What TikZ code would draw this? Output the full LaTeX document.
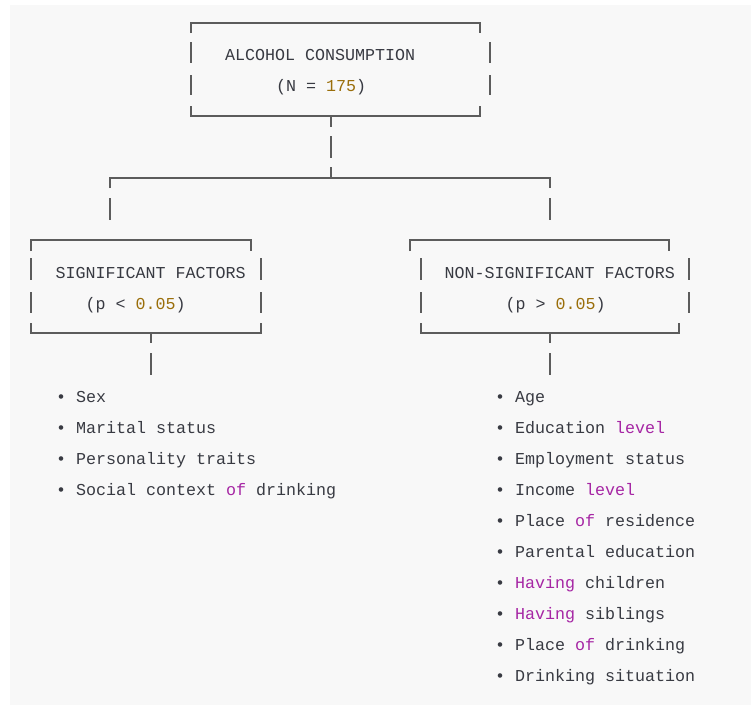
\documentclass[tikz,border=0pt]{standalone}
\usepackage{fontspec}
\newfontfamily\codefont{Liberation Mono}
\definecolor{bgc}{HTML}{F8F8F8}
\definecolor{txc}{HTML}{383A42}
\definecolor{numc}{HTML}{9A6E0A}
\definecolor{kwc}{HTML}{A626A4}
\definecolor{lnc}{HTML}{5C5C5C}
\tikzset{
  txt/.style={anchor=base west, inner sep=0pt, outer sep=0pt, text=txc, font=\codefont\fontsize{16.67}{20}\selectfont},
  ascii/.style={draw=lnc, line width=1.8pt, line cap=butt, line join=miter}
}
\newcommand{\nm}[1]{\textcolor{numc}{#1}}
\newcommand{\kw}[1]{\textcolor{kwc}{#1}}
\begin{document}
\begin{tikzpicture}[x=1pt,y=-1pt]
\useasboundingbox (0,0) rectangle (751,705);
\fill[white] (0,0) rectangle (751,705);
\fill[bgc] (10,5) rectangle (751,705);

% top box
\draw[ascii] (191,33) -- (191,23) -- (480,23) -- (480,33);
\draw[ascii] (191,42) -- (191,63);
\draw[ascii] (191,75) -- (191,95);
\draw[ascii] (490,42) -- (490,63);
\draw[ascii] (490,75) -- (490,95);
\draw[ascii] (191,106) -- (191,116) -- (480,116) -- (480,106);
\draw[ascii] (331,116) -- (331,127);
\draw[ascii] (331,136) -- (331,158);
\node[txt] (title) at (225,60.7) {ALCOHOL CONSUMPTION};
\node[txt] (n) at (276,91.7) {(N = \nm{175})};

% branch
\draw[ascii] (110,188) -- (110,178) -- (550,178) -- (550,188);
\draw[ascii] (331,178) -- (331,167);
\draw[ascii] (110,198) -- (110,220);
\draw[ascii] (550,198) -- (550,220);

% left box
\draw[ascii] (31,251) -- (31,240) -- (251,240) -- (251,251);
\draw[ascii] (31,258) -- (31,280);
\draw[ascii] (31,292) -- (31,313);
\draw[ascii] (261,258) -- (261,280);
\draw[ascii] (261,292) -- (261,313);
\draw[ascii] (31,323) -- (31,333) -- (261,333) -- (261,323);
\draw[ascii] (151,333) -- (151,343);
\draw[ascii] (151,353) -- (151,375);
\node[txt] (sig) at (55.7,278.3) {SIGNIFICANT FACTORS};
\node[txt] (sigp) at (85.7,309.3) {(p < \nm{0.05})};

% right box
\draw[ascii] (410,251) -- (410,240) -- (669,240) -- (669,251);
\draw[ascii] (421,258) -- (421,280);
\draw[ascii] (421,292) -- (421,313);
\draw[ascii] (689,258) -- (689,280);
\draw[ascii] (689,292) -- (689,313);
\draw[ascii] (421,323) -- (421,333) -- (679,333) -- (679,323);
\draw[ascii] (550,333) -- (550,343);
\draw[ascii] (550,353) -- (550,375);
\node[txt] (nsig) at (444.7,278.3) {NON-SIGNIFICANT FACTORS};
\node[txt] (nsigp) at (505.7,309.3) {(p > \nm{0.05})};

% left list
\node[txt] (l1) at (56,402.3) {• Sex};
\node[txt] (l2) at (56,433.3) {• Marital status};
\node[txt] (l3) at (56,464.3) {• Personality traits};
\node[txt] (l4) at (56,495.3) {• Social context \kw{of} drinking};

% right list
\node[txt] (r1) at (495,402.3) {• Age};
\node[txt] (r2) at (495,433.3) {• Education \kw{level}};
\node[txt] (r3) at (495,464.3) {• Employment status};
\node[txt] (r4) at (495,495.3) {• Income \kw{level}};
\node[txt] (r5) at (495,526.3) {• Place \kw{of} residence};
\node[txt] (r6) at (495,557.3) {• Parental education};
\node[txt] (r7) at (495,588.3) {• \kw{Having} children};
\node[txt] (r8) at (495,619.3) {• \kw{Having} siblings};
\node[txt] (r9) at (495,650.3) {• Place \kw{of} drinking};
\node[txt] (r10) at (495,681.3) {• Drinking situation};
\end{tikzpicture}
\end{document}
